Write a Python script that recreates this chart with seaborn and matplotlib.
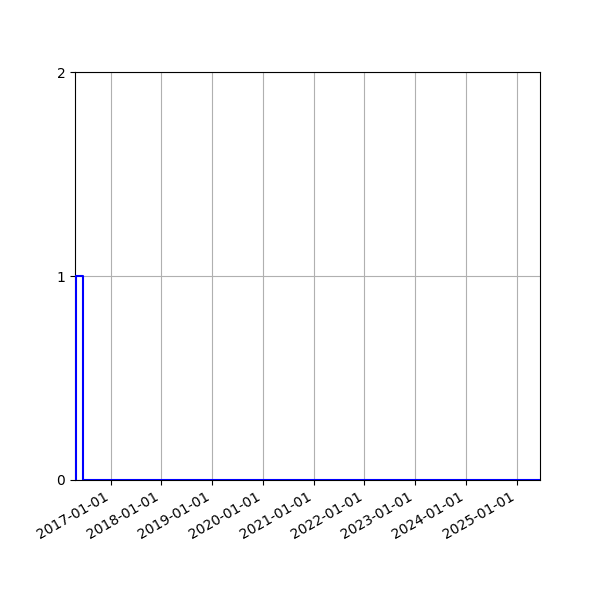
import matplotlib
matplotlib.use("Agg")
import matplotlib.pyplot as plt
import matplotlib.dates as mdates
import seaborn as sns
import pandas as pd
import numpy as np

# observed dates (one event), and the histogram window
eventDates = pd.to_datetime(["2016-05-01"])
viewStart = pd.Timestamp("2016-04-19")
rangeStart = pd.Timestamp("2016-04-26")
rangeEnd = pd.Timestamp("2025-06-18")
nBins = 63

x = mdates.date2num(eventDates.to_pydatetime())
v0 = mdates.date2num(viewStart.to_pydatetime())
lo = mdates.date2num(rangeStart.to_pydatetime())
hi = mdates.date2num(rangeEnd.to_pydatetime())

fig, ax = plt.subplots(figsize=(6, 6), dpi=100)
sns.histplot(x=x, bins=nBins, binrange=(lo, hi), element="step", fill=False,
             color="blue", linewidth=1.5, ax=ax)
for art in ax.lines + ax.patches + list(ax.collections):
    art.set_zorder(3)

# seaborn's step outline leaves off the vertical edges at the ends
counts, edges = np.histogram(x, bins=nBins, range=(lo, hi))
ax.vlines(edges[0], 0, counts[0], color="blue", linewidth=1.5, zorder=3)

ax.set_xlim(v0, hi)
ax.set_ylim(0, 2)
ax.set_yticks([0, 1, 2])
ax.set_ylabel("")
ax.set_xlabel("")
ax.xaxis.set_major_locator(mdates.YearLocator())
ax.xaxis.set_major_formatter(mdates.DateFormatter("%Y-%m-%d"))
ax.grid(True, color="#b0b0b0", linewidth=0.8)
ax.set_axisbelow(True)
fig.subplots_adjust(left=0.125, right=0.9, top=0.88)
fig.autofmt_xdate()

fig.savefig("out.png")
